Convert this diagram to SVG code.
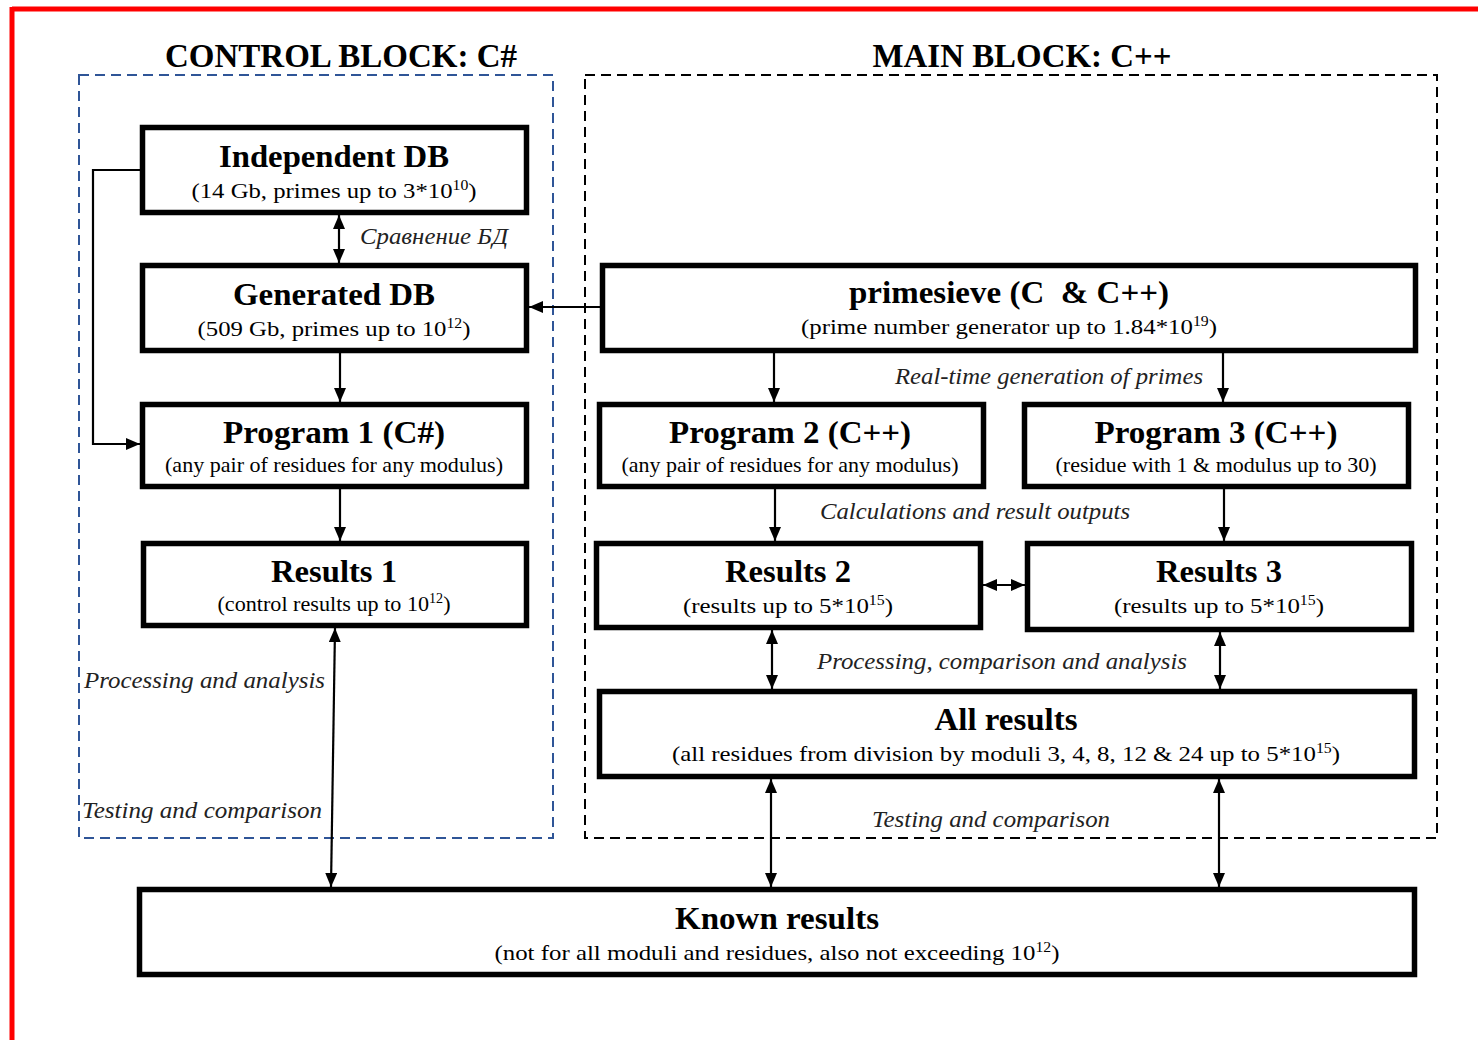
<svg xmlns="http://www.w3.org/2000/svg" width="1478" height="1040" viewBox="0 0 1478 1040">
<defs>
<marker id="arr" markerUnits="userSpaceOnUse" markerWidth="14" markerHeight="12" refX="14" refY="6" orient="auto-start-reverse">
<path d="M0,0 L14,6 L0,12 z" fill="#000"/>
</marker>
<style>
.node{fill:#fff;stroke:#000;stroke-width:5.5}
.t{font-family:'Liberation Serif','Times New Roman',Tinos,serif;font-weight:bold;font-size:32px;text-anchor:middle;fill:#000}
.s{font-family:'Liberation Serif','Times New Roman',Tinos,serif;font-size:22px;text-anchor:middle;fill:#000}
.sup{font-size:14px}
.lab{font-family:'Liberation Serif','Times New Roman',Tinos,serif;font-style:italic;font-size:23px;fill:#222}
.hdr{font-family:'Liberation Serif','Times New Roman',Tinos,serif;font-weight:bold;font-size:34px;text-anchor:middle;fill:#000}
.c{fill:none;stroke:#000;stroke-width:2.2}
</style>
</defs>
<rect width="1478" height="1040" fill="#fff"/>
<g id="frame">
<line x1="12" y1="9" x2="1478" y2="9" stroke="#f00" stroke-width="5"/>
<line x1="12" y1="7" x2="12" y2="1040" stroke="#f00" stroke-width="5"/>
</g>
<g id="control-block">
<rect x="79" y="75" width="474" height="763" fill="none" stroke="#2F5597" stroke-width="2" stroke-dasharray="10,6"/>
<text class="hdr" x="341" y="67" textLength="352" lengthAdjust="spacingAndGlyphs">CONTROL BLOCK: C#</text>
</g>
<g id="main-block">
<rect x="585" y="75" width="852" height="763" fill="none" stroke="#000" stroke-width="2" stroke-dasharray="10,6"/>
<text class="hdr" x="1022" y="67" textLength="299" lengthAdjust="spacingAndGlyphs">MAIN BLOCK: C++</text>
</g>
<g id="connectors">
<polyline class="c" points="140,170 93,170 93,444 140,444" marker-end="url(#arr)"/>
<line class="c" x1="339" y1="215" x2="339" y2="263" stroke-width="3" marker-start="url(#arr)" marker-end="url(#arr)"/>
<line class="c" x1="600" y1="307" x2="529" y2="307" marker-end="url(#arr)"/>
<line class="c" x1="340" y1="353" x2="340" y2="402" marker-end="url(#arr)"/>
<line class="c" x1="340" y1="489" x2="340" y2="541" marker-end="url(#arr)"/>
<line class="c" x1="774" y1="353" x2="774" y2="402" marker-end="url(#arr)"/>
<line class="c" x1="1223" y1="353" x2="1223" y2="402" marker-end="url(#arr)"/>
<line class="c" x1="775" y1="489" x2="775" y2="541" marker-end="url(#arr)"/>
<line class="c" x1="1224" y1="489" x2="1224" y2="541" marker-end="url(#arr)"/>
<line class="c" x1="983" y1="585" x2="1025" y2="585" stroke-width="3" marker-start="url(#arr)" marker-end="url(#arr)"/>
<line class="c" x1="772" y1="630" x2="772" y2="689" marker-start="url(#arr)" marker-end="url(#arr)"/>
<line class="c" x1="1220" y1="632" x2="1220" y2="689" marker-start="url(#arr)" marker-end="url(#arr)"/>
<line class="c" x1="771" y1="779" x2="771" y2="887" marker-start="url(#arr)" marker-end="url(#arr)"/>
<line class="c" x1="1219" y1="779" x2="1219" y2="887" marker-start="url(#arr)" marker-end="url(#arr)"/>
<line class="c" x1="335" y1="628" x2="331" y2="887" marker-start="url(#arr)" marker-end="url(#arr)"/>
<text class="lab" x="360" y="244" textLength="148" lengthAdjust="spacingAndGlyphs">Сравнение БД</text>
<text class="lab" x="895" y="384" textLength="308" lengthAdjust="spacingAndGlyphs">Real-time generation of primes</text>
<text class="lab" x="820" y="519" textLength="310" lengthAdjust="spacingAndGlyphs">Calculations and result outputs</text>
<text class="lab" x="817" y="669" textLength="370" lengthAdjust="spacingAndGlyphs">Processing, comparison and analysis</text>
<text class="lab" x="84" y="688" textLength="241" lengthAdjust="spacingAndGlyphs">Processing and analysis</text>
<text class="lab" x="82" y="818" textLength="240" lengthAdjust="spacingAndGlyphs">Testing and comparison</text>
<text class="lab" x="872" y="827" textLength="238" lengthAdjust="spacingAndGlyphs">Testing and comparison</text>
</g>
<g id="independent-db">
<rect class="node" x="142.5" y="127.5" width="384" height="85"/>
<text class="t" x="334" y="167" textLength="230" lengthAdjust="spacingAndGlyphs">Independent DB</text>
<text class="s" x="334" y="198" textLength="285" lengthAdjust="spacingAndGlyphs">(14 Gb, primes up to 3*10<tspan class="sup" dy="-8">10</tspan><tspan dy="8">)</tspan></text>
</g>
<g id="generated-db">
<rect class="node" x="142.5" y="265.5" width="384" height="85"/>
<text class="t" x="334" y="305" textLength="202" lengthAdjust="spacingAndGlyphs">Generated DB</text>
<text class="s" x="334" y="336" textLength="273" lengthAdjust="spacingAndGlyphs">(509 Gb, primes up to 10<tspan class="sup" dy="-8">12</tspan><tspan dy="8">)</tspan></text>
</g>
<g id="program-1">
<rect class="node" x="142.5" y="404.5" width="384" height="82"/>
<text class="t" x="334" y="443" textLength="222" lengthAdjust="spacingAndGlyphs">Program 1 (C#)</text>
<text class="s" x="334" y="472" textLength="338" lengthAdjust="spacingAndGlyphs">(any pair of residues for any modulus)</text>
</g>
<g id="results-1">
<rect class="node" x="143.5" y="543.5" width="383" height="82"/>
<text class="t" x="334" y="582" textLength="126" lengthAdjust="spacingAndGlyphs">Results 1</text>
<text class="s" x="334" y="611" textLength="233" lengthAdjust="spacingAndGlyphs">(control results up to 10<tspan class="sup" dy="-8">12</tspan><tspan dy="8">)</tspan></text>
</g>
<g id="primesieve">
<rect class="node" x="602.5" y="265.5" width="813" height="85"/>
<text class="t" x="1009" y="303" textLength="320" lengthAdjust="spacingAndGlyphs" style="white-space:pre">primesieve (C  &amp; C++)</text>
<text class="s" x="1009" y="334" textLength="416" lengthAdjust="spacingAndGlyphs">(prime number generator up to 1.84*10<tspan class="sup" dy="-8">19</tspan><tspan dy="8">)</tspan></text>
</g>
<g id="program-2">
<rect class="node" x="599.5" y="404.5" width="384" height="82"/>
<text class="t" x="790" y="443" textLength="242" lengthAdjust="spacingAndGlyphs">Program 2 (C++)</text>
<text class="s" x="790" y="472" textLength="337" lengthAdjust="spacingAndGlyphs">(any pair of residues for any modulus)</text>
</g>
<g id="program-3">
<rect class="node" x="1024.5" y="404.5" width="384" height="82"/>
<text class="t" x="1216" y="443" textLength="243" lengthAdjust="spacingAndGlyphs">Program 3 (C++)</text>
<text class="s" x="1216" y="472" textLength="321" lengthAdjust="spacingAndGlyphs">(residue with 1 &amp; modulus up to 30)</text>
</g>
<g id="results-2">
<rect class="node" x="596.5" y="543.5" width="384" height="84"/>
<text class="t" x="788" y="582" textLength="126" lengthAdjust="spacingAndGlyphs">Results 2</text>
<text class="s" x="788" y="613" textLength="210" lengthAdjust="spacingAndGlyphs">(results up to 5*10<tspan class="sup" dy="-8">15</tspan><tspan dy="8">)</tspan></text>
</g>
<g id="results-3">
<rect class="node" x="1027.5" y="543.5" width="384" height="86"/>
<text class="t" x="1219" y="582" textLength="126" lengthAdjust="spacingAndGlyphs">Results 3</text>
<text class="s" x="1219" y="613" textLength="210" lengthAdjust="spacingAndGlyphs">(results up to 5*10<tspan class="sup" dy="-8">15</tspan><tspan dy="8">)</tspan></text>
</g>
<g id="all-results">
<rect class="node" x="599.5" y="691.5" width="815" height="85"/>
<text class="t" x="1006" y="730" textLength="143" lengthAdjust="spacingAndGlyphs">All results</text>
<text class="s" x="1006" y="761" textLength="668" lengthAdjust="spacingAndGlyphs">(all residues from division by moduli 3, 4, 8, 12 &amp; 24 up to 5*10<tspan class="sup" dy="-8">15</tspan><tspan dy="8">)</tspan></text>
</g>
<g id="known-results">
<rect class="node" x="139.5" y="889.5" width="1275" height="85"/>
<text class="t" x="777" y="929" textLength="204" lengthAdjust="spacingAndGlyphs">Known results</text>
<text class="s" x="777" y="960" textLength="565" lengthAdjust="spacingAndGlyphs">(not for all moduli and residues, also not exceeding 10<tspan class="sup" dy="-8">12</tspan><tspan dy="8">)</tspan></text>
</g>
</svg>
